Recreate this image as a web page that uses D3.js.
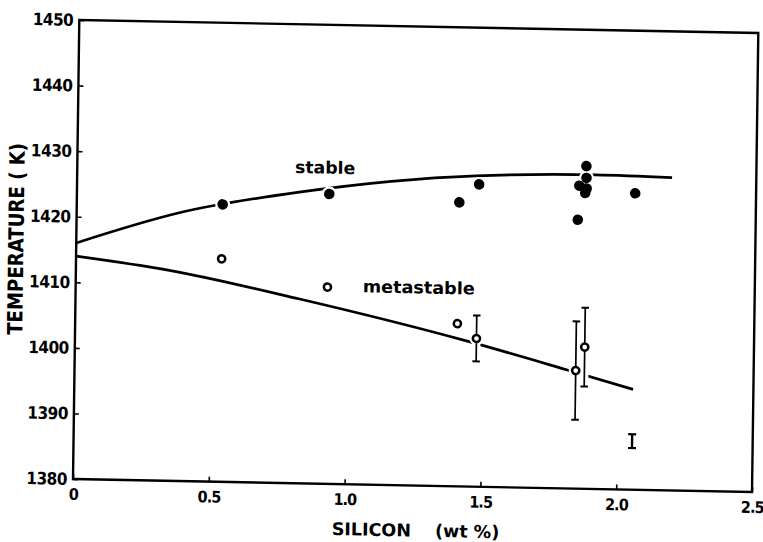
<!DOCTYPE html>
<html>
<head>
<meta charset="utf-8">
<script src="https://cdn.jsdelivr.net/npm/d3@7/dist/d3.min.js"></script>
<style>
  html, body { margin: 0; padding: 0; background: #fff; }
  svg { display: block; }
</style>
</head>
<body>
<div id="chart"></div>
<script>
// Axis ticks
const xTicks = [0, 0.5, 1.0, 1.5, 2.0, 2.5];
const xTickLabels = ["0", "0.5", "1.0", "1.5", "2.0", "2.5"];
const yTicks = [1380, 1390, 1400, 1410, 1420, 1430, 1440, 1450];

// Stable solidification points (filled circles)
const stableSi = [0.537, 0.929, 1.408, 1.480, 1.874, 1.875, 1.849, 1.876, 1.871, 1.845, 2.055];
const stableT  = [1422.3, 1424.2, 1423.3, 1426.1, 1429.2, 1427.4, 1426.2, 1425.8, 1425.1, 1421.0, 1425.2];

// Metastable points (open circles) with error half-widths (0 = none)
const metaSi  = [0.536, 0.927, 1.407, 1.478, 1.845, 1.877];
const metaT   = [1414.0, 1410.0, 1404.8, 1402.6, 1398.0, 1401.6];
const metaErr = [0, 0, 0, 3.5, 7.5, 6.0];

// Typical uncertainty bar
const typSi = [2.056];
const typT = [1387.4];
const typErr = [1.05];

// Fitted curves
const stableCurveSi = [0, 0.378, 0.818, 1.468, 1.909, 2.19];
const stableCurveT  = [1416.0, 1420.9, 1424.4, 1427.4, 1427.9, 1427.7];
const metaCurveSi = [0, 0.344, 0.825, 1.441, 1.811, 2.057];
const metaCurveT  = [1414.0, 1412.1, 1408.1, 1402.2, 1398.1, 1395.3];

// Curve labels
const labelText = ["stable", "metastable"];
const labelSi = [0.802, 1.057];
const labelT = [1427.3, 1409.3];

const width = 763, height = 542;
const W = 679, H = 459;

const svg = d3.select("#chart").append("svg")
  .attr("width", width).attr("height", height)
  .attr("viewBox", `0 0 ${width} ${height}`);
svg.append("rect").attr("width", width).attr("height", height).attr("fill", "#fff");

// plot frame sits slightly askew on the page
const g = svg.append("g")
  .attr("transform", "matrix(1,0.01915,-0.01373,1,79.3,20)");

const x = d3.scaleLinear().domain([0, 2.5]).range([0, W]);
const y = d3.scaleLinear().domain([1380, 1450]).range([H, 0]);

const tickFont = "'DejaVu Sans Condensed', 'DejaVu Sans', sans-serif";

// x axis
const xAxis = g.append("g")
  .attr("transform", `translate(0,${H})`)
  .call(d3.axisBottom(x).tickValues(xTicks)
    .tickFormat((d, i) => xTickLabels[i])
    .tickSize(-5).tickPadding(9.5));
xAxis.select(".domain").remove();

// y axis
const yAxis = g.append("g")
  .call(d3.axisLeft(y).tickValues(yTicks).tickFormat(d3.format("d"))
    .tickSize(-5).tickPadding(6));
yAxis.select(".domain").remove();

[xAxis, yAxis].forEach(a => {
  a.selectAll(".tick line").attr("stroke", "#000").attr("stroke-width", 1.6);
  a.selectAll(".tick text")
    .attr("fill", "#000")
    .attr("font-family", tickFont)
    .attr("font-weight", "bold");
});
yAxis.selectAll(".tick text").attr("font-size", 17).attr("letter-spacing", "-0.5px");
xAxis.selectAll(".tick text").attr("font-size", 16).attr("letter-spacing", "-0.9px");

// frame
g.append("rect")
  .attr("x", 0).attr("y", 0).attr("width", W).attr("height", H)
  .attr("fill", "none").attr("stroke", "#000").attr("stroke-width", 2.4);

// curves
const line = d3.line().x(d => x(d[0])).y(d => y(d[1])).curve(d3.curveMonotoneX);
g.append("path")
  .datum(stableCurveSi.map((s, i) => [s, stableCurveT[i]]))
  .attr("d", line).attr("fill", "none").attr("stroke", "#000").attr("stroke-width", 2.7);
g.append("path")
  .datum(metaCurveSi.map((s, i) => [s, metaCurveT[i]]))
  .attr("d", line).attr("fill", "none").attr("stroke", "#000").attr("stroke-width", 2.7);

const stablePts = stableSi.map((s, i) => ({ s, t: stableT[i] }));
const metaPts = metaSi.map((s, i) => ({ s, t: metaT[i], e: metaErr[i] }));
const barPts = metaPts.filter(d => d.e > 0);

// white halos break the curves around the marks
const halo = g.append("g");
halo.selectAll("circle.hs").data(stablePts).join("circle")
  .attr("cx", d => x(d.s)).attr("cy", d => y(d.t)).attr("r", 7.5).attr("fill", "#fff");
halo.selectAll("circle.hm").data(metaPts).join("circle")
  .attr("cx", d => x(d.s)).attr("cy", d => y(d.t)).attr("r", 7).attr("fill", "#fff");
halo.selectAll("line").data(barPts).join("line")
  .attr("x1", d => x(d.s)).attr("x2", d => x(d.s))
  .attr("y1", d => y(d.t + d.e)).attr("y2", d => y(d.t - d.e))
  .attr("stroke", "#fff").attr("stroke-width", 8);

// error bars
function drawBar(sel, data, sw, capW, capSw) {
  const gb = sel.append("g").attr("stroke", "#000");
  data.forEach(d => {
    const cx = x(d.s);
    gb.append("line").attr("x1", cx).attr("x2", cx)
      .attr("y1", y(d.t + d.e)).attr("y2", y(d.t - d.e)).attr("stroke-width", sw);
    [d.t + d.e, d.t - d.e].forEach(v => {
      gb.append("line").attr("x1", cx - capW / 2).attr("x2", cx + capW / 2)
        .attr("y1", y(v)).attr("y2", y(v)).attr("stroke-width", capSw);
    });
  });
}
drawBar(g, barPts, 1.7, 7.5, 2);
drawBar(g, typSi.map((s, i) => ({ s, t: typT[i], e: typErr[i] })), 2.4, 8, 2.2);

// stable points
g.append("g").selectAll("circle").data(stablePts).join("circle")
  .attr("cx", d => x(d.s)).attr("cy", d => y(d.t)).attr("r", 5.3).attr("fill", "#000");

// metastable points
g.append("g").selectAll("circle").data(metaPts).join("circle")
  .attr("cx", d => x(d.s)).attr("cy", d => y(d.t)).attr("r", 3.6)
  .attr("fill", "#fff").attr("stroke", "#000").attr("stroke-width", 2.5);

// curve labels
const labelWidths = [60, 112];
labelText.forEach((txt, i) => {
  g.append("text")
    .attr("x", x(labelSi[i])).attr("y", y(labelT[i]))
    .attr("font-family", "'DejaVu Sans', sans-serif")
    .attr("font-weight", "bold").attr("font-size", 17)
    .attr("textLength", labelWidths[i]).attr("lengthAdjust", "spacingAndGlyphs")
    .attr("fill", "#000").text(txt);
});

// axis titles
const xt = g.append("text")
  .attr("y", H + 51)
  .attr("font-family", "'DejaVu Sans', sans-serif")
  .attr("font-weight", "bold").attr("font-size", 17.5).attr("fill", "#000");
xt.append("tspan").attr("x", 259.4).text("SILICON");
xt.append("tspan").attr("x", 362.7).text("(wt %)");

g.append("text")
  .attr("transform", `translate(-59.8,220.1) rotate(-90)`)
  .attr("text-anchor", "middle").attr("dominant-baseline", "central")
  .attr("font-family", tickFont)
  .attr("font-weight", "bold").attr("font-size", 21)
  .attr("textLength", 192).attr("lengthAdjust", "spacingAndGlyphs")
  .attr("fill", "#000").text("TEMPERATURE  ( K)");
</script>
</body>
</html>
